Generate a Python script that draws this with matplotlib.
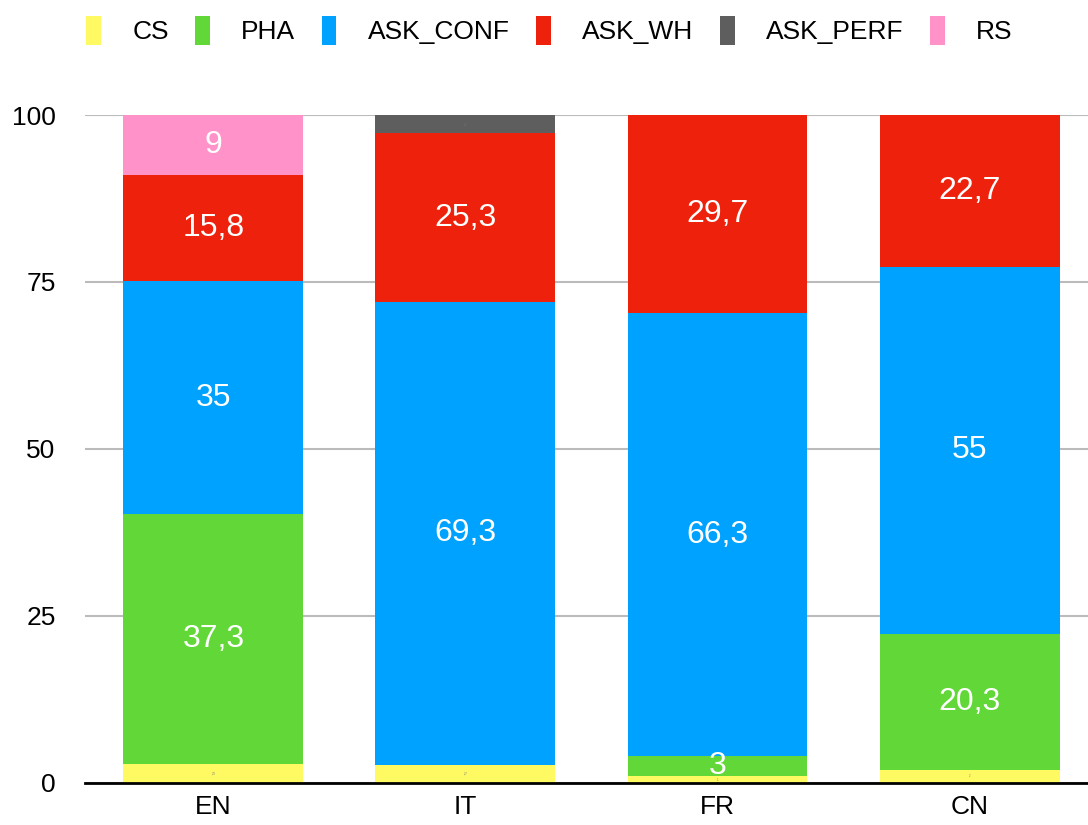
import matplotlib
matplotlib.use('Agg')
import matplotlib.pyplot as plt
import numpy as np

plt.rcParams['font.family'] = ['Liberation Sans', 'DejaVu Sans']

languages = ['EN', 'IT', 'FR', 'CN']
series = ['CS', 'PHA', 'ASK_CONF', 'ASK_WH', 'ASK_PERF', 'RS']
cs = [2.9, 2.7, 1.0, 2.0]
pha = [37.3, 0, 3.0, 20.3]
ask_conf = [35, 69.3, 66.3, 55]
ask_wh = [15.8, 25.3, 29.7, 22.7]
ask_perf = [0, 2.7, 0, 0]
rs = [9, 0, 0, 0]
colors = ['#FFFA62', '#62D838', '#00A2FF', '#EE220C', '#5E5E5E', '#FF93C9']

values = [cs, pha, ask_conf, ask_wh, ask_perf, rs]

fig = plt.figure(figsize=(10.88, 8.25), dpi=100)
ax = fig.add_axes([0.078, 0.051, 0.922, 0.8096])

x = np.arange(len(languages))
bottom = np.zeros(len(languages))
handles = []
for name, vals, col in zip(series, values, colors):
    vals = np.array(vals, dtype=float)
    bars = ax.bar(x, vals, 0.714, bottom=bottom, color=col, label=name, zorder=3)
    handles.append(bars)
    for xi, v, b in zip(x, vals, bottom):
        if v <= 0:
            continue
        txt = f"{v:g}".replace('.', ',')
        if v >= 3:
            ax.text(xi, b + v / 2, txt, ha='center', va='center', color='white',
                    fontsize=23, zorder=4)
        else:
            # tiny labels on thin segments
            ax.text(xi, b + v / 2, txt, ha='center', va='center', color='#777777',
                    fontsize=2, zorder=4)
    bottom += vals

ax.set_xlim(-0.51, 3.47)
ax.set_ylim(0, 100)
ax.set_xticks(x)
ax.set_xticklabels(languages)
ax.set_yticks([0, 25, 50, 75, 100])
ax.tick_params(axis='both', length=0, labelsize=19)
ax.tick_params(axis='y', pad=21)
ax.tick_params(axis='x', pad=9)
for lab in ax.get_yticklabels():
    lab.set_horizontalalignment('right')
ax.grid(axis='y', color='#BBBBBB', linewidth=1.5, zorder=0)
for s in ['left', 'right', 'top']:
    ax.spines[s].set_visible(False)
ax.spines['bottom'].set_linewidth(2)
ax.spines['bottom'].set_color('black')
ax.spines['bottom'].set_zorder(5)

fig.legend(handles=handles, labels=series, loc='center', bbox_to_anchor=(0.505, 0.963),
           ncol=6, frameon=False, fontsize=19, handlelength=0.55, handleheight=1.35,
           handletextpad=1.2, columnspacing=1.0)

fig.savefig('out.png', dpi=100)
